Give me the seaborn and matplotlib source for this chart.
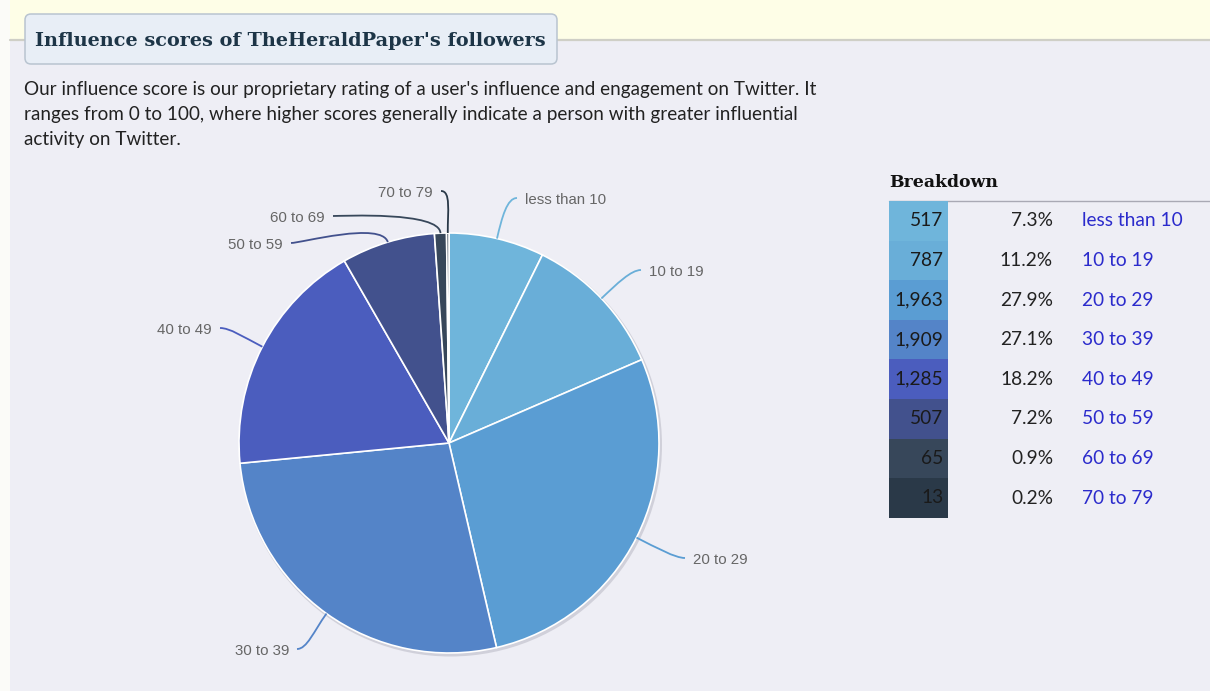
import numpy as np
import matplotlib
matplotlib.use("Agg")
import matplotlib.pyplot as plt
from matplotlib.patches import Rectangle, FancyBboxPatch, Circle, PathPatch
from matplotlib.path import Path
from matplotlib.colors import ListedColormap
import seaborn as sns

# ---- data -------------------------------------------------------------
categories = ["less than 10", "10 to 19", "20 to 29", "30 to 39",
              "40 to 49", "50 to 59", "60 to 69", "70 to 79"]
followers = [517, 787, 1963, 1909, 1285, 507, 65, 13]
percent_labels = ["7.3%", "11.2%", "27.9%", "27.1%", "18.2%", "7.2%", "0.9%", "0.2%"]
slice_colors = ["#6fb5db", "#69aed8", "#5a9dd3", "#5484c8",
                "#4b5dbe", "#42518d", "#37475a", "#2a3948"]

title = "Influence scores of TheHeraldPaper's followers"
intro_lines = [
    "Our influence score is our proprietary rating of a user's influence and engagement on Twitter. It",
    "ranges from 0 to 100, where higher scores generally indicate a person with greater influential",
    "activity on Twitter.",
]

# ---- style ------------------------------------------------------------
sns.set_theme(style="white")
plt.rcParams["font.family"] = ["Liberation Sans", "DejaVu Sans"]
palette = sns.color_palette(slice_colors)

W, H = 1210, 691
fig = plt.figure(figsize=(W / 100, H / 100), dpi=100)
ax = fig.add_axes([0, 0, 1, 1])

# page background
ax.add_patch(Rectangle((0, 0), W, H, facecolor="#fbfbf8", edgecolor="none", zorder=0))
ax.add_patch(Rectangle((10, 0), W - 10, 39, facecolor="#fefee7", edgecolor="none", zorder=0))
ax.add_patch(Rectangle((10, 39), W - 10, H - 39, facecolor="#eeeef5", edgecolor="none", zorder=0))
ax.plot([10, W], [39.5, 39.5], color="#cfcfc6", lw=1.6, zorder=1)

# title tab
ax.add_patch(FancyBboxPatch((25, 14), 532, 50, boxstyle="round,pad=0,rounding_size=6",
                            facecolor="#e8eef6", edgecolor="#b9c4d0", lw=1.1, zorder=2))
ax.text(35, 41, title, fontsize=13.9, fontweight="bold", family="DejaVu Serif",
        color="#1d3547", va="center", ha="left", zorder=3)

# intro paragraph
for i, line in enumerate(intro_lines):
    ax.text(24, 89 + 25 * i, line, fontsize=13.6, family="Lato", color="#222222",
            va="center", ha="left", zorder=3)

# ---- pie --------------------------------------------------------------
cx, cy, r = 449, 443, 210
ax.add_patch(Circle((cx + 1.5, cy + 2), r + 1.5, facecolor="#bdbdc8", edgecolor="none",
                    alpha=0.6, zorder=2))
wedges, _ = ax.pie(followers, colors=palette, startangle=-90, counterclock=True,
                   center=(cx, cy), radius=r, frame=True,
                   wedgeprops=dict(edgecolor="white", linewidth=1.2, zorder=3))

# leader lines and labels (text anchor, side)
label_pos = [(525, 200, "left"), (649, 272, "left"), (693, 560, "left"),
             (289, 651, "right"), (212, 330, "right"), (283, 245, "right"),
             (325, 218, "right"), (433, 193, "right")]
total = float(sum(followers))
cum = np.cumsum([0] + followers)
for i, (name, (tx, ty, side)) in enumerate(zip(categories, label_pos)):
    frac = (cum[i] + cum[i + 1]) / 2 / total
    ang = 2 * np.pi * frac  # clockwise from top
    dx, dy = np.sin(ang), -np.cos(ang)
    p0 = (cx + r * dx, cy + r * dy)
    p1 = (cx + (r + 22) * dx, cy + (r + 22) * dy)
    sgn = 1 if side == "left" else -1
    p3 = (tx - sgn * 8, ty - 2)
    p2 = (tx - sgn * 18, ty - 2)
    path = Path([p0, p1, p2, p3], [Path.MOVETO, Path.CURVE4, Path.CURVE4, Path.CURVE4])
    ax.add_patch(PathPatch(path, facecolor="none", edgecolor=slice_colors[i], lw=1.3, zorder=4))
    ax.text(tx, ty, name, fontsize=10.8, color="#666666", ha=side, va="center", zorder=5)

ax.set_xlim(0, W)
ax.set_ylim(H, 0)
ax.set_aspect("equal")
ax.axis("off")

# ---- breakdown table --------------------------------------------------
ax.text(889, 182, "Breakdown", fontsize=12.4, fontweight="bold", family="DejaVu Serif",
        color="#111111", va="center", ha="left", zorder=3)
ax.plot([889, W], [201, 201], color="#a9a9b4", lw=1.0, zorder=3)

row_h = 39.6
top = 201
for i in range(len(categories)):
    yc = top + row_h * (i + 0.5)
    ax.text(1053, yc, percent_labels[i], fontsize=13.8, family="Lato", color="#222222",
            ha="right", va="center", zorder=3)
    ax.text(1082, yc, categories[i], fontsize=13.8, family="Lato", color="#2b2bcc",
            ha="left", va="center", zorder=3)

hax = fig.add_axes([889 / W, (H - top - row_h * 8) / H, 59 / W, row_h * 8 / H])
sns.heatmap(np.arange(len(categories)).reshape(-1, 1), ax=hax,
            cmap=ListedColormap(slice_colors), cbar=False,
            xticklabels=False, yticklabels=False, linewidths=0)
for i, n in enumerate(followers):
    hax.text(0.92, i + 0.5, f"{n:,}", fontsize=13.8, family="Lato", color="#1a1a1a",
             ha="right", va="center", transform=hax.transData)

fig.savefig("out.png", dpi=100)
